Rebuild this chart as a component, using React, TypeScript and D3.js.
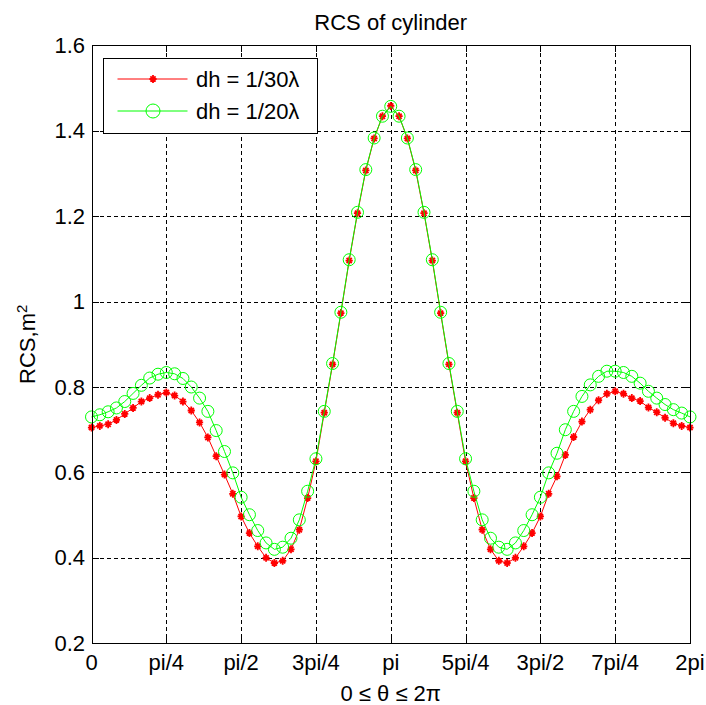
import React from "react";
import * as d3 from "d3";

const thetaDeg = [
  0, 5, 10, 15, 20, 25, 30, 35, 40, 45, 50, 55, 60, 65, 70, 75, 80, 85, 90, 95,
  100, 105, 110, 115, 120, 125, 130, 135, 140, 145, 150, 155, 160, 165, 170, 175,
  180, 185, 190, 195, 200, 205, 210, 215, 220, 225, 230, 235, 240, 245, 250, 255,
  260, 265, 270, 275, 280, 285, 290, 295, 300, 305, 310, 315, 320, 325, 330, 335,
  340, 345, 350, 355, 360,
];

const rcs30 = [
  0.705, 0.709, 0.713, 0.723, 0.737, 0.751, 0.766, 0.774, 0.782, 0.787, 0.78, 0.766,
  0.745, 0.717, 0.682, 0.638, 0.595, 0.55, 0.497, 0.458, 0.427, 0.4, 0.388, 0.393,
  0.42, 0.466, 0.54, 0.626, 0.74, 0.853, 0.973, 1.096, 1.207, 1.307, 1.382, 1.434,
  1.458, 1.434, 1.382, 1.307, 1.207, 1.096, 0.973, 0.853, 0.74, 0.626, 0.54, 0.466,
  0.42, 0.393, 0.388, 0.4, 0.427, 0.458, 0.497, 0.55, 0.591, 0.641, 0.683, 0.719,
  0.747, 0.769, 0.784, 0.79, 0.784, 0.774, 0.767, 0.752, 0.741, 0.728, 0.715, 0.709,
  0.705,
];

const rcs20 = [
  0.73, 0.735, 0.742, 0.751, 0.766, 0.785, 0.804, 0.821, 0.83, 0.834, 0.831, 0.82,
  0.8, 0.774, 0.743, 0.698, 0.649, 0.599, 0.542, 0.501, 0.464, 0.435, 0.42, 0.425,
  0.446, 0.489, 0.556, 0.632, 0.743, 0.855, 0.975, 1.098, 1.209, 1.309, 1.383, 1.434,
  1.457, 1.434, 1.383, 1.309, 1.209, 1.098, 0.975, 0.855, 0.743, 0.632, 0.556, 0.489,
  0.446, 0.425, 0.42, 0.435, 0.464, 0.501, 0.542, 0.599, 0.645, 0.7, 0.743, 0.778,
  0.805, 0.825, 0.837, 0.837, 0.834, 0.825, 0.809, 0.79, 0.774, 0.759, 0.747, 0.739,
  0.73,
];

const xTickValues = [0, 45, 90, 135, 180, 225, 270, 315, 360];
const xTickLabels = ["0", "pi/4", "pi/2", "3pi/4", "pi", "5pi/4", "3pi/2", "7pi/4", "2pi"];
const yTickValues = [0.2, 0.4, 0.6, 0.8, 1.0, 1.2, 1.4, 1.6];
const yTickLabels = ["0.2", "0.4", "0.6", "0.8", "1", "1.2", "1.4", "1.6"];

const seriesNames = ["dh = 1/30\u03bb", "dh = 1/20\u03bb"];
const seriesColors = ["#ff0000", "#00ff00"];

const W = 706;
const H = 705;
const L = 91.5;
const R = 690;
const T = 45.3;
const B = 643.3;
const FONT = "'Liberation Sans', Arial, Helvetica, sans-serif";
const FS = 22;

const starPath = "M0,-4V4M-3.6,0H3.6M-2.6,-2.6L2.6,2.6M-2.6,2.6L2.6,-2.6";

const px = (v: number) => Math.round(v) + 0.5;

export default function App() {
  const x = d3.scaleLinear().domain([0, 360]).range([L, R]);
  const y = d3.scaleLinear().domain([0.2, 1.6]).range([B, T]);

  const line = d3
    .line<number>()
    .x((_, i) => x(thetaDeg[i]))
    .y((d) => y(d));

  const tick = 6;
  const lx0 = 103.5;
  const ly0 = 58.5;
  const lw = 214;
  const lh = 75;
  const rowY = [79, 111];

  const bx0 = px(L);
  const bx1 = px(R);
  const by0 = px(T);
  const by1 = px(B);

  return (
    <svg
      width={W}
      height={H}
      style={{ position: "absolute", left: 0, top: 0, background: "#fff" }}
      fontFamily={FONT}
    >
      <rect x={0} y={0} width={W} height={H} fill="#fff" />
      {/* grid */}
      <g stroke="#000" strokeWidth={1} strokeDasharray="4,3" shapeRendering="crispEdges">
        {xTickValues.slice(1, -1).map((v) => (
          <line key={"gx" + v} x1={px(x(v))} x2={px(x(v))} y1={by0} y2={by1} />
        ))}
        {yTickValues.slice(1, -1).map((v) => (
          <line key={"gy" + v} x1={bx0} x2={bx1} y1={px(y(v))} y2={px(y(v))} />
        ))}
      </g>
      {/* ticks */}
      <g stroke="#000" strokeWidth={1} shapeRendering="crispEdges">
        {xTickValues.map((v) => (
          <g key={"tx" + v}>
            <line x1={px(x(v))} x2={px(x(v))} y1={by1} y2={by1 - tick} />
            <line x1={px(x(v))} x2={px(x(v))} y1={by0} y2={by0 + tick} />
          </g>
        ))}
        {yTickValues.map((v) => (
          <g key={"ty" + v}>
            <line x1={bx0} x2={bx0 + tick} y1={px(y(v))} y2={px(y(v))} />
            <line x1={bx1} x2={bx1 - tick} y1={px(y(v))} y2={px(y(v))} />
          </g>
        ))}
      </g>
      {/* series */}
      {[rcs30, rcs20].map((s, k) => (
        <g key={"s" + k}>
          <path d={line(s) || ""} fill="none" stroke={seriesColors[k]} strokeWidth={1} />
          {s.map((v, i) =>
            k === 0 ? (
              <path
                key={i}
                d={starPath}
                transform={`translate(${x(thetaDeg[i])},${y(v)})`}
                stroke={seriesColors[k]}
                strokeWidth={1.8}
                fill="none"
              />
            ) : (
              <circle
                key={i}
                cx={x(thetaDeg[i])}
                cy={y(v)}
                r={6}
                fill="none"
                stroke={seriesColors[k]}
                strokeWidth={1}
              />
            )
          )}
        </g>
      ))}
      {/* axes box */}
      <rect
        x={bx0}
        y={by0}
        width={bx1 - bx0}
        height={by1 - by0}
        fill="none"
        stroke="#000"
        strokeWidth={1}
        shapeRendering="crispEdges"
      />
      {/* tick labels */}
      <g fontSize={FS} fill="#000">
        {xTickValues.map((v, i) => (
          <text key={"lx" + v} x={x(v)} y={670} textAnchor="middle">
            {xTickLabels[i]}
          </text>
        ))}
        {yTickValues.map((v, i) => (
          <text key={"ly" + v} x={85} y={y(v)} textAnchor="end" dominantBaseline="central">
            {yTickLabels[i]}
          </text>
        ))}
      </g>
      {/* title and labels */}
      <text x={(L + R) / 2} y={30} textAnchor="middle" fontSize={FS} fill="#000">
        RCS of cylinder
      </text>
      <text x={(L + R) / 2} y={701} textAnchor="middle" fontSize={FS} fill="#000">
        0 ≤ θ ≤ 2π
      </text>
      <text
        transform={`translate(35,${(T + B) / 2}) rotate(-90)`}
        textAnchor="middle"
        fontSize={FS}
        fill="#000"
      >
        RCS,m<tspan fontSize={15} dy={-8}>2</tspan>
      </text>
      {/* legend */}
      <g>
        <rect
          x={lx0}
          y={ly0}
          width={lw}
          height={lh}
          fill="#fff"
          stroke="#000"
          strokeWidth={1}
          shapeRendering="crispEdges"
        />
        {seriesNames.map((name, k) => (
          <g key={"lg" + k}>
            <line x1={117.5} x2={187.5} y1={rowY[k]} y2={rowY[k]} stroke={seriesColors[k]} strokeWidth={1} />
            {k === 0 ? (
              <path
                d={starPath}
                transform={`translate(153,${rowY[k]})`}
                stroke={seriesColors[k]}
                strokeWidth={1.8}
                fill="none"
              />
            ) : (
              <circle cx={153} cy={rowY[k]} r={7} fill="none" stroke={seriesColors[k]} strokeWidth={1} />
            )}
            <text x={196} y={rowY[k]} dominantBaseline="central" fontSize={FS} fill="#000">
              {name}
            </text>
          </g>
        ))}
      </g>
    </svg>
  );
}
